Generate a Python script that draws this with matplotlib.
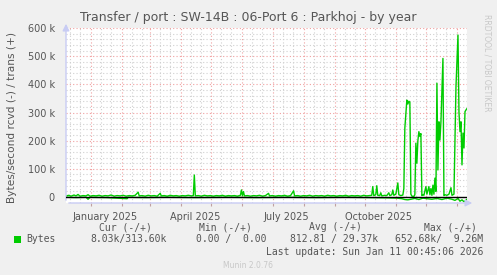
import numpy as np
import matplotlib
matplotlib.use("Agg")
import matplotlib.pyplot as plt
import matplotlib.dates as mdates
from matplotlib.ticker import MultipleLocator, FuncFormatter

# Munin "by year" graph: 400 days ending at the last update
start = np.datetime64("2024-12-07")
end = np.datetime64("2026-01-11")

# trans (+) samples: day offset from start, value in k bytes/s
trans_days = [0, 3, 5, 8, 10, 12, 14, 17, 20, 22, 24, 27, 30, 33, 36, 39, 42, 45, 48, 51,
              54, 57, 60, 63, 66, 69, 72, 73, 76, 79, 82, 85, 88, 91, 94, 95, 98, 101, 104, 107,
              110, 113, 116, 119, 122, 125, 127, 128, 129, 132, 135, 138, 141, 144, 147, 150, 153, 156, 159, 162,
              165, 168, 171, 174, 175, 176, 177, 178, 181, 184, 187, 190, 193, 196, 199, 202, 203, 206, 209, 212,
              215, 218, 221, 224, 227, 228, 231, 234, 237, 240, 243, 246, 249, 252, 255, 258, 261, 264, 267, 270,
              273, 276, 279, 282, 285, 288, 291, 294, 297, 300, 303, 305, 306, 307, 309, 310, 311, 313, 314, 315,
              318, 320, 322, 323, 325, 326, 327, 329, 331, 332, 334, 336, 337, 338, 340, 341, 342, 343, 344, 345,
              347, 348, 349, 350, 351, 352, 353, 354, 355, 356, 357, 359, 360, 362, 363, 364, 365, 366, 367, 368,
              369, 370, 371, 372, 373, 374, 376, 377, 378, 380, 382, 384, 385, 387, 389, 390, 391, 392, 393, 394,
              395, 396, 397, 398, 399, 400]
trans_k = [4, 6, 3, 7, 4, 9, 3, 5, 4, 8, 3, 5, 4, 6, 3, 5, 4, 7, 3, 5,
           4, 6, 3, 5, 4, 6, 17, 4, 5, 3, 6, 4, 5, 3, 13, 4, 5, 3, 6, 4,
           5, 3, 5, 4, 6, 4, 5, 78, 4, 5, 3, 6, 4, 5, 3, 5, 4, 6, 3, 5,
           4, 5, 3, 6, 25, 5, 19, 4, 5, 3, 5, 4, 6, 3, 5, 13, 4, 5, 3, 5,
           4, 6, 3, 5, 22, 4, 5, 3, 5, 4, 6, 3, 5, 4, 5, 3, 6, 4, 5, 3,
           5, 4, 6, 3, 5, 4, 5, 3, 6, 4, 5, 6, 37, 5, 8, 40, 6, 5, 15, 4,
           6, 5, 15, 5, 8, 25, 6, 10, 50, 8, 5, 7, 30, 245, 344, 330, 340, 337, 10, 3,
           2, 8, 191, 120, 200, 232, 215, 225, 5, 8, 6, 37, 10, 37, 8, 30, 6, 42, 10, 67,
           20, 404, 96, 267, 202, 267, 492, 5, 8, 6, 10, 33, 6, 10, 392, 480, 575, 300, 232, 267,
           114, 227, 174, 303, 309, 314]

# rcvd (-) samples, drawn below zero
rcvd_days = [0, 10, 20, 22, 24, 40, 61, 62, 80, 100, 130, 160, 190, 220, 250, 280, 300, 320, 330, 335,
             338, 341, 344, 348, 352, 356, 360, 365, 370, 375, 380, 385, 388, 391, 393, 395, 397, 400]
rcvd_k = [1, 2, 1, 8, 1, 2, 6, 1, 2, 1, 2, 1, 2, 1, 2, 1, 2, 3, 4, 6,
          9, 10, 8, 5, 9, 4, 6, 8, 5, 9, 4, 8, 12, 5, 15, 10, 17, 8]

title = "Transfer / port : SW-14B : 06-Port 6 : Parkhoj - by year"
ylabel = "Bytes/second rcvd (-) / trans (+)"
quarter_labels = ["January 2025", "April 2025", "July 2025", "October 2025"]
label_dates = ["2025-01-15", "2025-04-15", "2025-07-15", "2025-10-15"]
legend_head = ["Cur (-/+)", "Min (-/+)", "Avg (-/+)", "Max (-/+)"]
legend_vals = ["8.03k/313.60k", "0.00 /  0.00", "812.81 / 29.37k", "652.68k/  9.26M"]

W, H = 497, 275
fig = plt.figure(figsize=(W / 100, H / 100), dpi=100, facecolor="#f0f0f0")
ax = fig.add_axes([66 / W, (H - 203) / H, (467 - 66) / W, (203 - 28) / H])
ax.set_facecolor("white")

tdates = start + np.array(trans_days).astype("timedelta64[D]")
rdates = start + np.array(rcvd_days).astype("timedelta64[D]")
green = "#00cc00"
ax.plot(tdates, np.array(trans_k) * 1000, color=green, lw=1.0, zorder=3)
ax.plot(rdates, -np.array(rcvd_k) * 1000, color=green, lw=1.0, zorder=3)
ax.axhline(0, color="black", lw=1.0, zorder=4)

ax.set_xlim(start, end)
ax.set_ylim(-21300, 600000)

# grids: red dotted majors, grey dotted minors
ax.xaxis.set_major_locator(mdates.MonthLocator())
ax.xaxis.set_minor_locator(mdates.DayLocator(bymonthday=[11, 21]))
ax.yaxis.set_major_locator(MultipleLocator(100000))
ax.yaxis.set_minor_locator(MultipleLocator(20000))
ax.grid(which="major", color="#f0a0a0", ls=(0, (1, 2)), lw=0.8, zorder=1)
ax.grid(which="minor", color="#d0d0d0", ls=(0, (1, 2)), lw=0.8, zorder=0)
ax.tick_params(axis="x", which="major", length=2, color="#c0a0a0", labelbottom=False)
ax.tick_params(axis="x", which="minor", length=0)
ax.tick_params(axis="y", which="both", length=0, labelsize=7, labelcolor="#555555", pad=8)
ax.yaxis.set_major_formatter(FuncFormatter(lambda v, p: "0" if v == 0 else f"{int(v / 1000)} k"))

for s in ax.spines.values():
    s.set_visible(False)
axis_col = "#c8ccf4"
ax.annotate("", xy=(0, 1.04), xytext=(0, 0), xycoords="axes fraction",
            arrowprops=dict(arrowstyle="-|>,head_length=0.4,head_width=0.2", color=axis_col, lw=1), annotation_clip=False)
ax.annotate("", xy=(1.02, 0), xytext=(0, 0), xycoords="axes fraction",
            arrowprops=dict(arrowstyle="-|>,head_length=0.4,head_width=0.2", color=axis_col, lw=1), annotation_clip=False)

for lab, d in zip(quarter_labels, label_dates):
    ax.text(np.datetime64(d), -0.05, lab, transform=ax.get_xaxis_transform(),
            ha="center", va="top", fontsize=7, color="#555555")

fig.text(248 / W, 1 - 18 / H, title, ha="center", va="center", fontsize=9, color="#555555")
fig.text(12 / W, 1 - 117 / H, ylabel, rotation=90, ha="center", va="center", fontsize=7.6, color="#555555")
fig.text(487 / W, 1 - 14 / H, "RRDTOOL / TOBI OETIKER", rotation=270, ha="center", va="top",
         fontsize=5.5, color="#c8c8c8")

mono = "DejaVu Sans Mono"
head_x = [125, 225, 335, 450]
for h, x in zip(legend_head, head_x):
    fig.text(x / W, 1 - 227 / H, h, ha="center", va="center", fontsize=7, family=mono, color="#555555")
fig.patches.append(plt.Rectangle((14 / W, 1 - 243 / H), 7 / W, 7 / H, transform=fig.transFigure,
                                 facecolor=green, edgecolor="none"))
fig.text(26 / W, 1 - 239 / H, "Bytes", ha="left", va="center", fontsize=7, family=mono, color="#555555")
val_x = [167, 266, 378, 483]
for v, x in zip(legend_vals, val_x):
    fig.text(x / W, 1 - 239 / H, v, ha="right", va="center", fontsize=7, family=mono, color="#555555")
fig.text(483 / W, 1 - 252 / H, "Last update: Sun Jan 11 00:45:06 2026", ha="right", va="center",
         fontsize=7, family=mono, color="#555555")
fig.text(248 / W, 1 - 265 / H, "Munin 2.0.76", ha="center", va="center", fontsize=5.5, color="#c8c8c8")

fig.savefig("out.png", dpi=100, facecolor=fig.get_facecolor())
